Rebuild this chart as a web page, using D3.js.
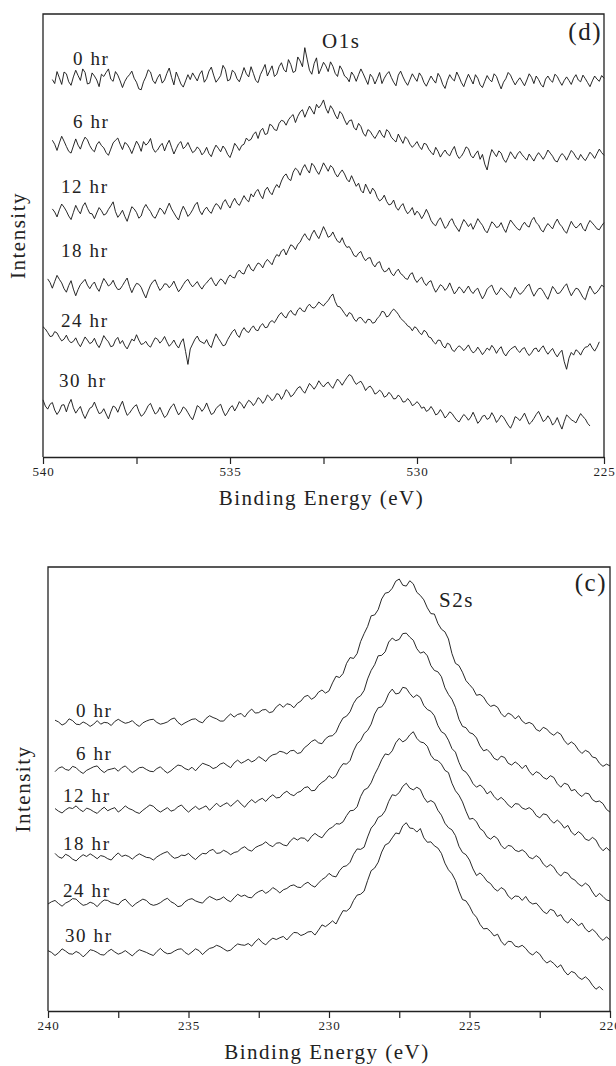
<!DOCTYPE html>
<html>
<head>
<meta charset="utf-8">
<script src="https://cdn.jsdelivr.net/npm/d3@7/dist/d3.min.js"></script>
<style>
  body { margin: 0; background: #fff; }
  svg { display: block; }
  text { font-family: "Liberation Serif", "DejaVu Serif", serif; fill: #222; }
</style>
</head>
<body>
<div id="chart"></div>
<script>
// Spectrum labels (same for both panels)
const hours = ['0 hr', '6 hr', '12 hr', '18 hr', '24 hr', '30 hr']

// ---- O1s panel (d): stacked intensity, arbitrary units ----
const o1sStep = 0.0625
const o1sStart = [539.75, 539.75, 539.75, 539.875, 540, 540]
const o1s0 = [
  85.2, 84.3, 87.0, 85.6, 84.1, 86.9, 86.5, 84.7, 83.9, 85.8, 87.3, 86.1, 85.0, 87.6, 86.8, 84.2, 84.4, 86.7, 86.0, 85.1,
  83.6, 86.4, 85.9, 86.8, 87.6, 85.3, 84.8, 87.0, 86.2, 84.9, 83.4, 84.8, 85.7, 86.3, 87.1, 85.5, 84.6, 83.1, 82.9, 84.7,
  85.8, 87.4, 86.9, 85.0, 84.3, 85.6, 86.4, 84.4, 85.1, 86.6, 87.8, 85.7, 84.0, 86.9, 85.6, 84.2, 83.5, 84.9, 86.3, 85.2,
  86.7, 85.8, 84.9, 86.4, 87.2, 84.6, 85.4, 87.1, 88.0, 86.2, 84.6, 85.3, 86.1, 88.4, 87.5, 84.9, 85.2, 87.3, 86.8, 85.4,
  84.7, 86.2, 87.9, 86.5, 85.8, 88.1, 86.6, 85.0, 84.5, 86.3, 87.4, 88.6, 86.0, 87.2, 88.3, 85.9, 86.4, 88.1, 89.0, 87.5,
  86.9, 89.7, 88.6, 86.8, 87.1, 90.3, 89.4, 88.1, 92.4, 89.8, 87.3, 86.4, 88.8, 90.1, 86.5, 87.7, 89.1, 88.3, 87.0, 89.2,
  88.2, 86.6, 85.9, 88.3, 87.4, 86.0, 85.6, 84.7, 86.9, 86.1, 84.8, 86.3, 87.6, 86.5, 85.3, 84.1, 86.4, 85.7, 84.2, 85.4,
  86.8, 84.3, 85.5, 86.4, 87.0, 85.7, 84.6, 83.8, 86.2, 87.1, 85.8, 84.7, 83.9, 85.2, 86.5, 85.6, 84.8, 86.7, 85.9, 84.5,
  83.7, 84.9, 86.0, 85.1, 84.4, 86.6, 85.7, 84.1, 83.2, 85.0, 86.3, 85.4, 84.9, 86.9, 85.8, 84.5, 83.6, 85.1, 86.4, 85.3,
  84.2, 86.3, 85.5, 84.0, 83.4, 84.8, 86.1, 85.2, 84.7, 86.5, 85.9, 84.4, 83.1, 84.6, 85.4, 86.8, 86.2, 85.0, 84.0, 84.9,
  85.6, 84.7, 83.8, 85.1, 86.5, 85.7, 84.3, 86.0, 85.2, 84.1, 83.5, 85.3, 86.0, 85.1, 84.6, 86.4, 85.9, 84.8, 83.9, 85.0,
  85.8, 85.0, 84.1, 85.5, 86.3, 85.1, 84.7, 86.2, 85.4, 84.5, 83.6, 84.9, 86.0, 85.3, 84.8, 86.1, 85.5
]
const o1s6 = [
  71.5, 70.6, 69.2, 70.9, 72.4, 71.3, 70.1, 69.0, 68.6, 70.2, 71.8, 70.4, 69.5, 71.1, 72.2, 71.6, 70.3, 69.4, 68.9, 70.5,
  71.2, 70.3, 69.8, 68.7, 68.1, 69.5, 70.9, 71.5, 72.0, 70.6, 69.4, 71.0, 70.6, 69.7, 68.5, 69.9, 71.3, 70.4, 69.0, 71.2,
  70.4, 70.9, 71.9, 69.7, 68.8, 69.3, 70.2, 70.8, 69.1, 70.5, 71.5, 69.9, 68.4, 69.6, 70.7, 71.2, 69.6, 70.1, 71.0, 69.8,
  68.7, 69.1, 70.0, 69.4, 68.2, 68.8, 69.9, 68.5, 67.8, 69.3, 70.4, 69.7, 68.9, 70.2, 69.5, 68.3, 67.6, 69.0, 70.8, 70.1,
  69.2, 70.3, 70.6, 72.0, 71.4, 71.7, 72.8, 73.4, 71.9, 73.6, 74.2, 72.8, 73.0, 75.1, 74.8, 73.9, 73.7, 75.3, 76.0, 75.8,
  74.9, 76.1, 76.8, 77.3, 75.5, 76.9, 77.9, 78.4, 76.7, 78.0, 79.2, 78.3, 77.4, 79.6, 78.8, 79.5, 80.6, 78.7, 77.6, 79.3,
  78.5, 77.2, 76.3, 78.0, 77.4, 76.1, 75.0, 75.9, 76.1, 74.4, 73.8, 75.3, 74.6, 73.1, 72.4, 73.9, 73.5, 72.6, 71.9, 72.8,
  73.8, 72.7, 72.1, 73.9, 73.4, 72.2, 71.6, 71.1, 72.9, 71.8, 70.8, 72.3, 71.7, 70.6, 69.9, 70.5, 71.2, 70.1, 69.4, 70.8,
  70.6, 69.5, 68.8, 68.2, 69.9, 69.0, 67.7, 68.6, 69.3, 68.4, 68.0, 69.2, 70.1, 68.3, 67.4, 67.9, 68.8, 70.0, 69.6, 68.1,
  67.5, 68.4, 69.1, 67.2, 68.3, 66.1, 64.8, 67.5, 69.4, 68.6, 67.8, 69.1, 68.6, 67.2, 66.5, 67.6, 68.9, 68.1, 67.3, 68.4,
  69.0, 68.2, 67.6, 67.0, 68.4, 67.6, 66.8, 67.9, 68.7, 68.0, 67.2, 68.1, 69.3, 68.6, 67.9, 66.9, 66.6, 67.7, 68.5, 68.0,
  67.0, 68.1, 69.2, 68.6, 67.7, 67.1, 68.3, 67.5, 66.9, 67.8, 68.8, 68.2, 67.4, 68.5, 69.5, 68.7, 68.1
]
const o1s12 = [
  56.0, 55.3, 54.2, 55.8, 57.1, 56.4, 55.5, 54.4, 53.6, 55.2, 56.8, 55.7, 54.9, 56.6, 57.4, 56.1, 55.0, 54.9, 53.8, 55.1,
  56.3, 55.6, 54.6, 54.9, 55.9, 56.7, 57.6, 55.4, 54.1, 54.8, 55.7, 54.3, 53.2, 54.9, 56.5, 56.0, 55.2, 53.9, 54.4, 56.1,
  57.0, 56.1, 55.4, 54.3, 53.9, 55.0, 56.2, 55.7, 54.8, 56.1, 57.3, 56.0, 55.1, 54.2, 53.5, 55.3, 56.6, 55.6, 54.3, 54.9,
  55.8, 56.9, 57.5, 55.6, 54.7, 55.8, 56.4, 55.5, 55.0, 56.3, 57.2, 56.8, 55.9, 57.4, 58.1, 57.0, 56.2, 57.5, 58.4, 57.3,
  56.8, 57.9, 59.0, 58.1, 57.6, 59.4, 58.7, 59.9, 60.4, 59.1, 58.3, 60.2, 60.9, 59.8, 59.2, 60.6, 61.5, 60.8, 62.3, 63.4,
  63.9, 62.8, 62.4, 64.3, 65.2, 64.7, 63.6, 65.1, 66.0, 64.9, 64.1, 66.3, 65.7, 64.6, 63.8, 65.0, 66.4, 65.5, 64.5, 65.8,
  65.3, 64.0, 63.2, 64.1, 64.8, 63.9, 62.7, 62.1, 63.5, 62.3, 61.1, 61.8, 60.2, 59.6, 61.6, 60.5, 59.4, 60.7, 60.0, 58.6,
  57.8, 58.2, 59.1, 57.7, 56.9, 57.1, 58.0, 56.4, 55.7, 56.6, 57.2, 55.8, 54.9, 55.5, 56.3, 54.6, 55.5, 54.9, 53.8, 54.7,
  55.9, 54.8, 53.4, 52.6, 52.2, 53.3, 54.0, 52.8, 51.6, 52.1, 53.3, 53.8, 52.5, 51.7, 50.9, 52.3, 53.6, 52.9, 52.0, 52.7,
  51.4, 52.5, 53.8, 53.0, 52.3, 51.2, 50.6, 51.8, 53.1, 52.6, 51.8, 52.0, 52.9, 51.6, 50.7, 52.2, 53.5, 52.8, 52.1, 51.5,
  51.2, 52.3, 53.0, 52.2, 51.9, 53.4, 54.1, 52.9, 52.4, 51.3, 50.8, 51.9, 52.7, 52.1, 51.5, 52.8, 53.7, 52.6, 52.0, 51.1,
  50.5, 51.9, 53.2, 52.3, 51.7, 52.1, 52.8, 51.6, 51.0, 52.4, 53.4, 52.8, 52.2, 51.5, 51.3, 52.2, 52.9
]
const o1s18 = [
  40.2, 39.4, 38.1, 39.6, 41.0, 40.1, 39.3, 38.0, 37.2, 38.7, 39.8, 37.9, 36.4, 37.8, 38.9, 39.5, 40.1, 38.8, 38.0, 38.9,
  39.5, 38.2, 37.4, 38.9, 40.3, 39.5, 38.6, 39.0, 39.9, 38.6, 37.8, 37.9, 38.7, 39.6, 40.4, 38.5, 37.1, 38.3, 39.2, 39.0,
  38.3, 37.0, 35.9, 37.5, 38.8, 39.6, 40.0, 38.7, 37.6, 38.2, 39.1, 39.0, 38.2, 38.8, 39.7, 38.4, 37.3, 38.0, 38.9, 39.7,
  40.1, 39.1, 38.4, 39.0, 39.6, 38.6, 37.9, 38.8, 39.3, 40.0, 40.5, 39.4, 38.6, 39.5, 40.2, 39.8, 39.0, 40.3, 41.1, 40.6,
  40.4, 41.6, 42.2, 41.5, 41.3, 42.6, 43.5, 42.4, 42.0, 43.0, 43.8, 43.5, 42.7, 43.9, 44.6, 44.0, 43.4, 44.8, 45.7, 45.3,
  46.5, 46.9, 45.6, 46.8, 47.9, 47.6, 46.8, 48.0, 48.5, 49.6, 50.4, 49.5, 48.9, 50.3, 51.2, 50.1, 49.3, 50.6, 52.0, 50.9,
  49.6, 49.9, 50.8, 49.6, 48.7, 48.4, 49.5, 48.1, 47.3, 47.5, 46.6, 45.5, 45.2, 46.0, 46.4, 45.1, 44.3, 44.9, 45.0, 43.6,
  42.9, 43.8, 44.1, 42.6, 41.8, 42.0, 42.7, 41.5, 40.9, 41.8, 42.4, 41.4, 41.0, 40.3, 40.1, 41.2, 41.6, 40.2, 39.4, 40.1,
  40.6, 39.4, 38.7, 39.5, 39.8, 38.3, 37.2, 38.0, 38.9, 38.5, 37.6, 38.2, 39.3, 38.0, 36.8, 37.5, 38.4, 37.9, 37.0, 37.8,
  38.6, 37.5, 36.9, 37.7, 38.1, 36.8, 35.7, 36.6, 37.9, 38.4, 38.8, 37.5, 36.6, 37.3, 38.2, 37.6, 37.1, 36.4, 35.9, 37.1,
  38.3, 37.4, 36.7, 37.1, 37.8, 38.6, 39.0, 37.5, 36.3, 37.2, 38.0, 38.1, 37.4, 36.4, 35.6, 37.0, 38.5, 37.8, 36.9, 37.0,
  37.7, 38.5, 39.1, 37.6, 36.4, 37.3, 38.1, 37.9, 37.0, 36.0, 35.5, 37.2, 38.6, 37.6, 36.8, 37.2, 37.9, 38.8, 38.4
]
const o1s24 = [
  29.4, 28.9, 28.1, 27.2, 27.3, 28.3, 28.0, 27.0, 26.2, 26.6, 27.5, 26.3, 25.8, 26.1, 26.9, 25.7, 24.9, 26.0, 27.1, 26.4,
  25.6, 25.9, 26.8, 25.5, 24.7, 25.9, 27.4, 26.6, 26.0, 24.9, 25.1, 26.4, 27.0, 25.6, 26.3, 25.1, 24.4, 25.5, 26.6, 26.2,
  27.6, 26.4, 25.4, 25.6, 26.1, 25.2, 24.8, 25.9, 26.9, 26.6, 25.7, 26.3, 27.2, 26.0, 25.0, 25.6, 26.4, 25.3, 24.6, 25.9,
  26.7, 23.8, 20.9, 24.4, 25.5, 26.6, 27.3, 26.2, 25.9, 25.6, 26.5, 25.3, 24.7, 26.4, 27.8, 26.8, 26.0, 25.1, 25.3, 26.5,
  27.4, 28.3, 28.8, 27.6, 27.0, 28.4, 29.2, 28.4, 28.1, 29.0, 29.6, 28.7, 28.5, 29.6, 30.1, 29.2, 29.3, 30.4, 30.8, 30.3,
  31.2, 32.1, 32.6, 31.8, 31.4, 32.5, 33.1, 32.3, 32.0, 33.2, 33.7, 33.0, 32.8, 33.9, 34.5, 33.8, 33.6, 34.2, 35.0, 34.5,
  34.1, 34.8, 35.3, 36.2, 36.8, 35.1, 34.0, 33.9, 33.2, 32.4, 31.7, 32.6, 32.3, 31.2, 30.6, 31.4, 31.5, 30.8, 30.2, 31.1,
  31.0, 30.2, 30.4, 31.3, 31.8, 32.9, 32.7, 31.6, 31.9, 32.8, 33.4, 32.9, 32.2, 31.3, 30.8, 30.3, 29.6, 29.3, 28.5, 29.4,
  29.0, 28.1, 27.6, 28.6, 28.2, 27.1, 26.9, 26.0, 25.5, 26.4, 26.3, 25.1, 24.6, 25.7, 25.4, 24.2, 23.8, 24.6, 25.1, 24.7,
  24.0, 24.6, 25.3, 24.2, 23.5, 23.9, 24.8, 24.0, 23.1, 23.8, 24.6, 24.1, 25.2, 24.5, 23.4, 24.3, 24.9, 23.5, 22.8, 23.7,
  24.3, 24.7, 25.0, 24.1, 23.6, 24.4, 24.7, 23.6, 22.9, 23.5, 24.4, 24.6, 23.7, 24.5, 25.1, 24.0, 23.2, 23.9, 24.5, 23.4,
  22.6, 23.5, 24.1, 21.5, 19.8, 22.3, 23.6, 23.0, 24.2, 23.8, 23.0, 24.1, 24.8, 24.9, 25.6, 24.6, 23.9, 24.8, 26.0
]
const o1s30 = [
  12.9, 11.5, 10.8, 11.9, 12.3, 10.6, 9.6, 10.4, 11.7, 11.8, 10.2, 11.9, 13.0, 11.1, 9.9, 10.7, 11.4, 9.8, 8.7, 9.9,
  11.0, 11.3, 12.4, 11.0, 9.8, 10.0, 10.9, 9.7, 8.6, 10.2, 11.5, 11.2, 10.1, 11.5, 12.6, 10.8, 9.4, 9.9, 10.7, 11.4,
  11.8, 10.3, 9.2, 9.6, 10.5, 11.6, 12.1, 10.8, 9.7, 10.1, 11.2, 10.0, 8.9, 9.4, 10.6, 11.5, 12.0, 10.6, 9.5, 10.2,
  11.3, 10.9, 10.0, 9.1, 8.4, 9.9, 11.6, 11.2, 10.3, 11.0, 12.2, 10.8, 9.6, 9.9, 10.9, 11.5, 11.9, 10.4, 9.3, 10.1,
  11.1, 11.6, 10.4, 11.3, 12.5, 11.9, 11.0, 12.0, 12.8, 12.4, 11.6, 12.3, 13.4, 13.0, 12.1, 12.8, 14.0, 13.5, 12.7, 13.3,
  14.3, 14.1, 13.0, 13.9, 15.2, 14.7, 13.6, 14.0, 14.8, 15.6, 15.9, 15.0, 14.4, 15.5, 16.6, 16.0, 15.3, 16.1, 17.2, 16.4,
  15.8, 16.5, 16.9, 16.1, 15.5, 16.6, 17.6, 17.0, 16.2, 17.1, 17.9, 18.6, 18.3, 17.2, 16.4, 16.8, 17.1, 16.2, 15.0, 15.7,
  16.0, 15.3, 14.2, 14.5, 15.1, 14.6, 13.5, 13.8, 14.6, 14.0, 13.1, 13.2, 14.0, 13.4, 12.4, 12.5, 13.2, 12.6, 11.6, 11.9,
  12.5, 11.9, 11.0, 11.3, 10.3, 10.6, 11.4, 10.6, 9.5, 9.8, 10.7, 9.9, 8.8, 9.4, 10.2, 9.8, 9.0, 8.3, 7.9, 8.8,
  9.6, 9.1, 8.3, 9.0, 10.1, 8.9, 7.6, 8.2, 9.2, 9.4, 8.5, 8.8, 10.0, 9.1, 7.8, 8.5, 9.4, 9.0, 8.1, 7.2,
  6.5, 7.6, 9.1, 8.8, 8.2, 9.0, 9.9, 8.6, 7.4, 7.9, 8.7, 9.6, 10.3, 9.2, 8.0, 8.4, 9.3, 8.5, 7.2, 7.8,
  8.9, 7.5, 6.3, 8.0, 9.5, 9.0, 8.4, 8.1, 7.7, 8.8, 9.8, 9.1, 8.6, 7.6, 7.0
]
const o1sTickValues = [540, 537.5, 535, 532.5, 530, 527.5, 525]
const o1sTickLabels = ['540', '', '535', '', '530', '', '225']

// ---- S2s panel (c) ----
const s2sStep = 0.125
const s2sStart = [239.75, 239.75, 239.75, 239.75, 240, 240]
const s2s0 = [
  65.5, 65.1, 64.4, 64.8, 65.8, 65.4, 64.6, 64.5, 65.1, 64.7, 64.1, 64.6, 65.4, 64.6, 65.0, 64.9, 64.3, 65.2, 65.7, 65.2,
  64.8, 65.0, 65.4, 64.6, 64.1, 64.9, 65.3, 65.6, 65.7, 65.0, 64.6, 64.8, 65.1, 65.7, 66.0, 65.0, 64.4, 64.9, 65.3, 65.7,
  65.8, 65.2, 64.9, 65.9, 66.5, 66.1, 65.8, 65.3, 65.3, 66.2, 66.9, 66.2, 66.8, 67.0, 66.2, 67.3, 68.0, 67.1, 67.2, 67.8,
  67.9, 67.2, 67.4, 68.5, 69.1, 68.4, 69.2, 69.0, 68.3, 69.3, 69.8, 70.8, 71.1, 70.2, 70.7, 71.8, 72.3, 71.6, 72.1, 73.9,
  75.4, 75.1, 76.0, 78.3, 79.6, 79.4, 80.5, 83.2, 85.0, 86.6, 89.0, 89.2, 90.4, 92.8, 94.1, 94.3, 95.2, 96.8, 97.3, 95.9,
  95.7, 96.9, 96.2, 94.3, 93.6, 92.6, 90.8, 89.5, 89.4, 87.3, 86.0, 85.4, 83.8, 80.5, 78.3, 77.8, 76.3, 74.4, 73.5, 72.6,
  71.1, 71.3, 70.7, 69.4, 68.6, 68.9, 68.4, 67.0, 66.2, 67.1, 66.7, 65.8, 66.5, 65.3, 64.7, 65.0, 64.6, 63.4, 63.0, 63.9,
  63.5, 62.6, 62.1, 62.8, 62.3, 60.9, 60.0, 60.6, 60.0, 58.8, 58.0, 58.7, 58.3, 57.2, 57.0, 55.8, 55.1, 55.6, 55.2
]
const s2s6 = [
  53.9, 54.7, 55.0, 54.4, 54.2, 55.1, 54.8, 54.0, 53.5, 54.2, 54.6, 55.0, 55.2, 54.3, 53.7, 54.3, 54.5, 54.7, 54.0, 54.8,
  55.2, 54.4, 53.7, 54.2, 54.8, 54.9, 54.4, 54.0, 53.9, 54.6, 55.0, 54.2, 53.6, 54.1, 54.8, 55.4, 55.2, 54.6, 54.3, 54.9,
  54.1, 55.0, 55.8, 55.5, 55.2, 54.6, 54.9, 55.6, 55.9, 55.3, 54.8, 55.9, 56.5, 55.8, 56.2, 56.7, 56.1, 56.5, 57.3, 56.8,
  56.2, 57.2, 57.7, 57.9, 58.5, 58.3, 57.9, 58.6, 58.7, 58.0, 58.2, 59.3, 59.9, 60.7, 61.1, 60.4, 60.2, 61.3, 61.9, 62.0,
  62.8, 64.6, 66.0, 66.4, 67.4, 69.3, 70.5, 71.0, 72.2, 74.8, 76.7, 78.0, 80.0, 80.1, 80.9, 83.1, 84.0, 83.4, 83.7, 85.0,
  85.1, 84.2, 83.5, 81.6, 80.6, 80.9, 80.0, 77.8, 76.7, 76.4, 75.3, 72.8, 71.3, 70.2, 68.4, 65.7, 64.1, 63.8, 62.7, 62.4,
  61.5, 59.7, 58.6, 58.9, 58.1, 56.9, 56.5, 57.4, 57.1, 55.8, 55.4, 56.1, 55.5, 54.6, 55.4, 54.0, 53.1, 53.9, 53.5, 52.6,
  52.2, 53.0, 52.6, 51.2, 50.4, 51.3, 51.0, 49.6, 49.9, 48.9, 48.3, 49.1, 48.9, 47.6, 47.1, 47.3, 46.7, 45.4, 44.8
]
const s2s12 = [
  45.6, 45.0, 44.6, 45.3, 45.8, 45.6, 46.2, 45.4, 44.9, 45.7, 45.4, 44.9, 44.5, 45.3, 45.9, 45.1, 45.5, 45.8, 44.8, 45.4,
  46.2, 45.6, 45.3, 44.8, 44.5, 45.2, 45.8, 46.4, 46.1, 45.3, 44.8, 45.3, 45.8, 45.0, 45.3, 46.0, 46.4, 45.5, 44.8, 45.5,
  46.1, 45.4, 45.8, 46.2, 45.2, 46.0, 46.8, 46.0, 46.5, 46.9, 46.1, 46.8, 47.5, 46.6, 45.9, 46.9, 47.6, 46.9, 47.5, 47.9,
  47.2, 48.1, 48.7, 48.0, 48.1, 49.0, 49.5, 48.8, 48.5, 49.2, 49.5, 50.3, 50.5, 49.6, 49.7, 50.8, 51.5, 52.0, 53.0, 52.4,
  53.0, 54.6, 55.7, 55.6, 56.4, 58.6, 60.2, 60.9, 62.5, 63.2, 64.6, 66.9, 68.3, 68.5, 69.6, 71.5, 72.5, 71.4, 71.6, 72.9,
  72.7, 71.5, 70.6, 71.2, 70.6, 68.8, 67.9, 67.5, 66.5, 64.3, 62.9, 62.4, 61.0, 59.1, 58.3, 56.0, 54.3, 53.8, 52.7, 51.2,
  50.4, 50.9, 50.2, 48.9, 49.5, 48.3, 47.5, 48.1, 47.4, 46.4, 45.8, 46.7, 46.6, 45.7, 45.4, 45.8, 45.2, 44.0, 43.5, 44.4,
  44.2, 43.1, 42.3, 43.0, 42.3, 41.2, 41.8, 40.3, 39.6, 40.4, 39.8, 38.7, 38.4, 39.1, 38.5, 37.0, 36.1, 36.8, 36.0
]
const s2s18 = [
  35.5, 34.7, 34.4, 35.3, 34.9, 34.2, 33.8, 34.6, 35.2, 34.8, 35.4, 34.9, 34.3, 35.0, 34.8, 34.3, 34.0, 34.9, 35.6, 34.8,
  35.1, 34.8, 34.2, 34.9, 35.4, 35.0, 34.6, 34.5, 34.0, 34.7, 35.2, 35.6, 35.9, 35.0, 34.4, 34.6, 35.1, 35.0, 35.5, 34.7,
  34.1, 34.9, 35.5, 35.4, 36.1, 36.4, 35.5, 35.6, 36.2, 35.8, 35.2, 35.7, 35.9, 36.6, 37.0, 36.3, 36.0, 36.8, 37.2, 37.5,
  38.1, 37.4, 37.0, 37.8, 37.9, 37.4, 37.2, 38.3, 39.0, 38.5, 39.0, 38.9, 38.2, 39.3, 40.0, 39.4, 39.0, 40.1, 41.0, 41.4,
  42.2, 42.1, 42.6, 44.0, 45.1, 45.2, 46.0, 48.3, 49.8, 50.2, 51.4, 53.3, 54.8, 56.6, 57.9, 57.7, 58.6, 60.4, 61.4, 60.6,
  61.1, 62.2, 62.9, 61.4, 60.6, 60.4, 59.6, 57.6, 56.6, 56.4, 55.6, 54.2, 53.7, 51.3, 49.6, 48.6, 47.1, 45.0, 43.2, 43.4,
  42.6, 41.1, 40.5, 39.2, 38.7, 39.4, 38.8, 37.3, 36.5, 37.3, 37.1, 36.2, 35.9, 36.3, 35.7, 34.6, 34.3, 35.0, 34.4, 33.1,
  32.4, 33.0, 32.4, 31.1, 30.4, 31.3, 31.0, 29.9, 29.5, 28.6, 28.1, 28.8, 28.2, 26.8, 25.7, 26.5, 25.8, 25.0, 24.8
]
const s2s24 = [
  24.1, 24.6, 24.9, 24.2, 23.6, 24.3, 24.7, 25.3, 25.2, 24.4, 23.8, 24.0, 24.5, 24.2, 23.5, 24.4, 25.0, 24.9, 24.4, 24.2,
  23.9, 24.8, 25.2, 24.3, 23.5, 24.2, 24.7, 25.2, 24.9, 24.1, 23.8, 24.0, 24.4, 25.0, 25.4, 24.6, 24.2, 23.5, 23.7, 24.6,
  25.1, 25.3, 24.8, 24.5, 24.3, 25.2, 25.8, 25.4, 25.0, 25.2, 25.7, 25.0, 24.6, 25.5, 26.3, 25.8, 26.1, 25.6, 25.5, 26.4,
  26.9, 27.2, 26.5, 27.0, 27.8, 27.3, 26.6, 27.3, 27.6, 28.2, 28.4, 27.9, 27.8, 28.6, 29.0, 28.3, 27.9, 28.8, 29.6, 30.1,
  31.0, 30.4, 30.2, 31.6, 32.5, 32.7, 33.5, 35.3, 36.5, 36.4, 36.9, 39.2, 41.2, 42.1, 43.6, 44.0, 45.1, 47.2, 48.7, 48.5,
  49.2, 50.6, 51.3, 50.2, 49.8, 50.4, 49.9, 48.1, 47.0, 47.4, 46.9, 45.2, 44.1, 42.3, 41.3, 40.8, 39.5, 37.1, 35.7, 35.2,
  34.0, 32.0, 30.5, 31.1, 30.3, 29.2, 28.7, 27.6, 27.0, 27.8, 27.3, 25.9, 25.2, 25.9, 25.8, 24.9, 25.8, 24.6, 24.1, 24.3,
  23.4, 22.4, 21.9, 22.9, 22.6, 21.3, 21.7, 20.4, 19.8, 20.8, 20.1, 19.2, 19.8, 18.5, 17.8, 18.4, 17.7, 16.6, 15.9, 16.7,
  16.0
]
const s2s30 = [
  13.6, 13.2, 12.5, 13.1, 14.0, 13.5, 12.9, 12.8, 13.4, 13.0, 12.2, 12.9, 13.8, 13.6, 13.2, 12.7, 12.6, 13.4, 13.9, 13.3,
  12.8, 13.1, 13.6, 13.0, 12.4, 13.2, 13.8, 13.5, 13.2, 12.8, 12.5, 13.4, 14.1, 13.3, 12.9, 13.0, 13.5, 13.9, 14.0, 13.2,
  12.7, 13.3, 14.0, 13.6, 12.7, 13.5, 14.1, 14.3, 14.8, 14.5, 14.0, 13.5, 13.7, 14.5, 15.1, 14.9, 14.8, 15.2, 14.6, 15.6,
  16.3, 15.4, 14.9, 15.8, 16.4, 16.1, 16.5, 16.8, 16.0, 16.9, 17.7, 17.6, 17.0, 17.3, 17.8, 17.9, 17.1, 18.2, 19.4, 19.0,
  19.6, 20.3, 19.6, 21.2, 22.6, 22.5, 23.2, 24.9, 26.1, 26.3, 27.0, 29.4, 31.6, 32.2, 33.5, 35.8, 37.4, 37.8, 39.0, 40.1,
  39.9, 41.7, 42.4, 41.2, 41.1, 40.3, 41.1, 39.0, 38.0, 38.1, 37.2, 36.7, 35.5, 33.3, 31.8, 30.9, 29.4, 27.0, 25.1, 24.8,
  23.6, 22.0, 21.1, 19.5, 18.5, 18.6, 17.9, 16.9, 17.3, 15.7, 14.8, 15.7, 15.6, 14.6, 14.4, 14.8, 14.1, 13.1, 12.6, 13.4,
  12.8, 11.6, 10.8, 11.3, 10.7, 9.8, 10.4, 9.0, 8.1, 8.9, 8.6, 7.6, 7.1, 7.7, 7.0, 5.8, 4.9, 5.5, 4.7
]
const s2sTickValues = [240, 237.5, 235, 232.5, 230, 227.5, 225, 222.5, 220]
const s2sTickLabels = ['240', '', '235', '', '230', '', '225', '', '220']

const W = 616, H = 1066
const svg = d3.select('#chart').append('svg')
  .attr('width', W).attr('height', H)

const panels = [
  {
    box: { left: 43, right: 604, top: 14, bottom: 457 },
    domain: [540, 525],
    series: [o1s0, o1s6, o1s12, o1s18, o1s24, o1s30],
    start: o1sStart, step: o1sStep,
    tickValues: o1sTickValues, tickLabels: o1sTickLabels,
    labelPos: [[73, 65], [73, 128], [61, 193], [61, 257], [61, 327], [59, 387]],
    peak: { text: 'O1s', x: 322, y: 48 },
    tag: { text: '(d)', x: 602, y: 40 }
  },
  {
    box: { left: 48, right: 610, top: 567, bottom: 1011 },
    domain: [240, 220],
    series: [s2s0, s2s6, s2s12, s2s18, s2s24, s2s30],
    start: s2sStart, step: s2sStep,
    tickValues: s2sTickValues, tickLabels: s2sTickLabels,
    labelPos: [[76, 717], [76, 760], [63, 802], [63, 850], [63, 897], [65, 942]],
    peak: { text: 'S2s', x: 439, y: 607 },
    tag: { text: '(c)', x: 607, y: 591 }
  }
]

panels.forEach(p => {
  const b = p.box
  const x = d3.scaleLinear().domain(p.domain).range([b.left, b.right])
  const y = d3.scaleLinear().domain([0, 100]).range([b.bottom, b.top])
  const g = svg.append('g')

  // spectra
  const line = d3.line()
  p.series.forEach((vals, k) => {
    const pts = vals.map((v, i) => [x(p.start[k] - i * p.step), y(v)])
    g.append('path')
      .attr('d', line(pts))
      .attr('fill', 'none')
      .attr('stroke', '#111')
      .attr('stroke-width', 0.9)
      .attr('stroke-linejoin', 'round')
  })

  // frame (left, top, right)
  g.append('path')
    .attr('d', `M${b.left},${b.bottom}V${b.top}H${b.right}V${b.bottom}`)
    .attr('fill', 'none').attr('stroke', '#222').attr('stroke-width', 1.3)

  // bottom axis, ticks pointing out
  const ax = g.append('g')
    .attr('transform', `translate(0,${b.bottom})`)
    .call(d3.axisBottom(x)
      .tickValues(p.tickValues)
      .tickSize(7).tickSizeOuter(0).tickPadding(3)
      .tickFormat((d, i) => p.tickLabels[i]))
  ax.select('.domain').attr('stroke', '#222').attr('stroke-width', 1.6)
  ax.selectAll('.tick line').attr('stroke', '#222').attr('stroke-width', 1.2)
  ax.selectAll('.tick text')
    .style('font-family', '"Liberation Serif", serif')
    .style('font-size', '13px').style('letter-spacing', '0.8px')
    .attr('fill', '#555')

  // axis titles
  g.append('text')
    .attr('x', (b.left + b.right) / 2 - 2).attr('y', b.bottom + 48)
    .attr('text-anchor', 'middle')
    .style('font-size', '21px').style('letter-spacing', '1.5px')
    .text('Binding Energy (eV)')
  g.append('text')
    .attr('transform', `translate(${b.left - 18},${(b.top + b.bottom) / 2}) rotate(-90)`)
    .attr('text-anchor', 'middle')
    .style('font-size', '21px').style('letter-spacing', '1.5px')
    .text('Intensity')

  // series labels
  hours.forEach((h, k) => {
    g.append('text')
      .attr('x', p.labelPos[k][0]).attr('y', p.labelPos[k][1])
      .style('font-size', '19px').style('letter-spacing', '1.6px')
      .text(h)
  })

  g.append('text')
    .attr('x', p.peak.x).attr('y', p.peak.y)
    .style('font-size', '21px').style('letter-spacing', '1.5px')
    .text(p.peak.text)
  g.append('text')
    .attr('x', p.tag.x).attr('y', p.tag.y)
    .attr('text-anchor', 'end')
    .style('font-size', '25px').style('letter-spacing', '1.5px')
    .text(p.tag.text)
})
</script>
</body>
</html>
